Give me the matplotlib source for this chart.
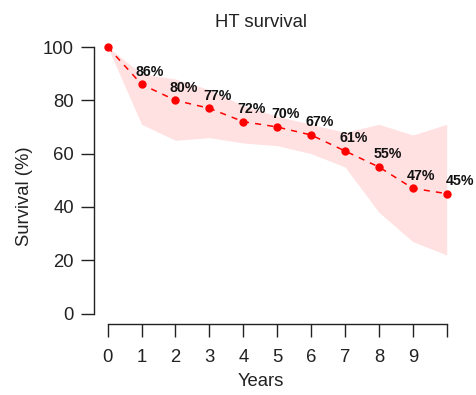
import matplotlib
matplotlib.use("Agg")
import matplotlib.pyplot as plt

plt.rcParams['font.family'] = ['Liberation Sans', 'DejaVu Sans']

years = [0, 1, 2, 3, 4, 5, 6, 7, 8, 9, 10]
survival = [100, 86, 80, 77, 72, 70, 67, 61, 55, 47, 45]
upper = [100, 90, 88, 84, 78, 74, 71, 68, 71, 67, 71]
lower = [100, 71, 65, 66, 64, 63, 60, 55, 38, 27, 22]
xticks = [0, 1, 2, 3, 4, 5, 6, 7, 8, 9, 10]
xticklabels = ["0", "1", "2", "3", "4", "5", "6", "7", "8", "9", ""]
yticks = [0, 20, 40, 60, 80, 100]

fig = plt.figure(figsize=(4.76, 3.95), dpi=100)
ax = fig.add_axes([0.1977, 0.179, 0.7693, 0.729])

ax.fill_between(years, lower, upper, color="#ffe1e1", linewidth=0)
ax.plot(years, survival, color="red", linestyle=(0, (4, 4)), linewidth=1.1)
ax.plot(years, survival, "o", color="red", markersize=5)

# labels des pourcentages
for x, v in zip(years[1:], survival[1:]):
    dx = 0.4 if x == 10 else 0.25
    ax.text(x + dx, v + 4.8, f"{v}%", ha="center", va="center",
            fontsize=10.2, fontweight="bold", color="#111111", clip_on=False)

ax.set_xlim(-0.4, 10.4)
ax.set_ylim(-4, 104)
ax.set_xticks(xticks)
ax.set_xticklabels(xticklabels)
ax.set_yticks(yticks)

for s in ["top", "right"]:
    ax.spines[s].set_visible(False)
ax.spines["left"].set_bounds(0, 100)
ax.spines["bottom"].set_bounds(0, 10)
for s in ["left", "bottom"]:
    ax.spines[s].set_linewidth(1.0)
    ax.spines[s].set_color("#222222")

ax.tick_params(axis="both", direction="out", length=9.5, width=1.0,
               labelsize=13.3, colors="#222222")
ax.tick_params(axis="x", pad=8)
ax.tick_params(axis="y", pad=5)

ax.set_xlabel("Years", fontsize=13.3, color="#222222")
ax.xaxis.set_label_coords(0.456, -0.169)
ax.set_ylabel("Survival (%)", fontsize=13.3, color="#222222")
ax.yaxis.set_label_coords(-0.167, 0.445)
ax.set_title("HT survival", fontsize=13.3, color="#222222", x=0.456, pad=7)

fig.savefig("out.png", dpi=100)
